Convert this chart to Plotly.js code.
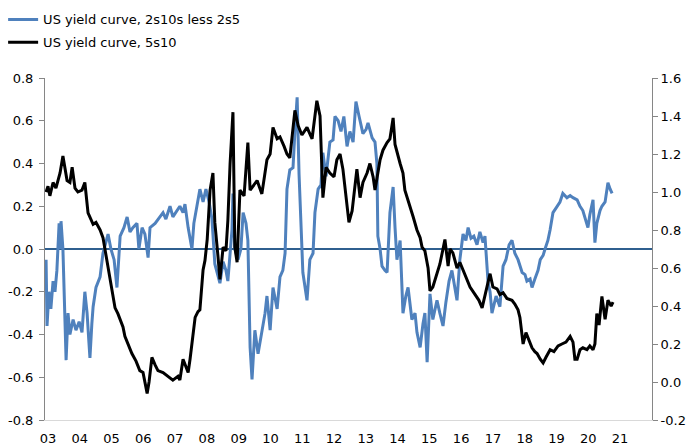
<!DOCTYPE html>
<html>
<head>
<meta charset="utf-8">
<script src="https://cdn.plot.ly/plotly-3.0.1.min.js"></script>
<style>html,body{margin:0;padding:0;background:#fff;}#chart{width:686px;height:446px;}</style>
</head>
<body>
<div id="chart"></div>
<script>
// Series 1: US yield curve, 2s10s less 2s5 (left axis)
const blueYears = [2002.94,2002.97,2003.03,2003.09,2003.16,2003.22,2003.28,2003.35,2003.38,2003.41,2003.47,2003.53,2003.57,2003.63,2003.69,2003.79,2003.88,2003.98,2004.07,2004.16,2004.23,2004.29,2004.32,2004.38,2004.42,2004.51,2004.64,2004.73,2004.83,2004.89,2004.98,2005.08,2005.17,2005.23,2005.27,2005.39,2005.49,2005.58,2005.67,2005.80,2005.86,2005.96,2006.05,2006.15,2006.21,2006.37,2006.52,2006.62,2006.71,2006.84,2006.93,2007.06,2007.15,2007.25,2007.31,2007.41,2007.47,2007.53,2007.59,2007.69,2007.78,2007.88,2007.97,2008.07,2008.16,2008.25,2008.35,2008.41,2008.51,2008.60,2008.66,2008.79,2008.82,2008.88,2008.98,2009.07,2009.14,2009.23,2009.29,2009.36,2009.42,2009.51,2009.61,2009.73,2009.83,2009.89,2009.99,2010.08,2010.21,2010.30,2010.39,2010.46,2010.52,2010.61,2010.71,2010.77,2010.84,2010.90,2010.99,2011.02,2011.15,2011.24,2011.34,2011.40,2011.50,2011.59,2011.65,2011.75,2011.87,2011.97,2012.03,2012.13,2012.22,2012.31,2012.41,2012.50,2012.60,2012.69,2012.79,2012.91,2013.01,2013.07,2013.20,2013.29,2013.35,2013.38,2013.45,2013.51,2013.60,2013.67,2013.76,2013.86,2013.92,2013.98,2014.08,2014.17,2014.26,2014.33,2014.45,2014.55,2014.61,2014.71,2014.80,2014.86,2014.93,2015.02,2015.11,2015.24,2015.33,2015.43,2015.52,2015.62,2015.71,2015.81,2015.87,2015.96,2016.06,2016.15,2016.22,2016.31,2016.40,2016.50,2016.59,2016.69,2016.75,2016.85,2016.91,2016.97,2017.10,2017.22,2017.32,2017.41,2017.51,2017.60,2017.69,2017.79,2017.92,2018.01,2018.07,2018.17,2018.23,2018.32,2018.42,2018.49,2018.58,2018.64,2018.73,2018.80,2018.89,2018.98,2019.11,2019.20,2019.33,2019.43,2019.52,2019.65,2019.74,2019.83,2019.90,2019.99,2020.05,2020.15,2020.21,2020.27,2020.37,2020.43,2020.53,2020.62,2020.69,2020.75];
const blueVals = [-0.05,-0.36,-0.2,-0.28,-0.15,-0.2,-0.1,0.12,0.0,0.13,0.0,-0.28,-0.52,-0.3,-0.4,-0.33,-0.38,-0.34,-0.39,-0.2,-0.3,-0.44,-0.51,-0.35,-0.27,-0.18,-0.13,-0.02,0.04,0.07,0.0,-0.05,-0.18,-0.05,0.06,0.1,0.15,0.08,0.1,0.12,0.0,0.1,0.07,-0.04,0.1,0.12,0.15,0.17,0.14,0.2,0.15,0.18,0.2,0.17,0.21,0.1,0.05,0.0,0.12,0.2,0.28,0.22,0.28,0.22,0.14,-0.07,-0.12,-0.16,-0.06,-0.1,-0.15,0.09,0.26,0.0,-0.05,0.0,0.17,0.12,0.04,-0.46,-0.61,-0.38,-0.49,-0.38,-0.3,-0.22,-0.38,-0.18,-0.28,-0.13,-0.1,-0.02,0.28,0.37,0.38,0.55,0.71,0.35,0.06,-0.11,-0.24,-0.05,-0.02,0.17,0.28,0.3,0.45,0.34,0.5,0.51,0.62,0.6,0.55,0.62,0.48,0.55,0.5,0.69,0.62,0.54,0.56,0.59,0.52,0.5,0.4,0.06,0.0,-0.08,-0.1,-0.11,0.17,0.29,0.1,-0.05,0.04,-0.3,-0.22,-0.18,-0.33,-0.3,-0.39,-0.46,-0.35,-0.3,-0.53,-0.21,-0.33,-0.24,-0.3,-0.36,-0.25,-0.15,-0.1,-0.2,-0.24,-0.05,0.07,0.04,0.1,0.05,0.06,0.02,0.08,0.03,0.06,-0.16,-0.2,-0.3,-0.22,-0.27,-0.08,-0.05,0.02,0.04,-0.02,-0.05,-0.11,-0.12,-0.15,-0.14,-0.18,-0.14,-0.1,-0.05,-0.03,0.0,0.04,0.09,0.17,0.19,0.22,0.26,0.24,0.25,0.24,0.23,0.2,0.18,0.14,0.1,0.16,0.23,0.03,0.12,0.18,0.2,0.22,0.31,0.28,0.26];

// Series 2: US yield curve, 5s10 (right axis)
const blackYears = [2002.94,2003.00,2003.06,2003.16,2003.25,2003.38,2003.47,2003.53,2003.60,2003.69,2003.76,2003.85,2003.94,2004.07,2004.16,2004.26,2004.35,2004.42,2004.51,2004.64,2004.73,2004.79,2004.86,2004.95,2005.01,2005.11,2005.20,2005.27,2005.36,2005.42,2005.52,2005.64,2005.77,2005.89,2005.99,2006.05,2006.12,2006.18,2006.27,2006.37,2006.46,2006.62,2006.78,2006.93,2007.09,2007.15,2007.25,2007.34,2007.41,2007.47,2007.53,2007.63,2007.72,2007.78,2007.88,2007.94,2008.01,2008.10,2008.19,2008.25,2008.35,2008.41,2008.51,2008.60,2008.66,2008.73,2008.82,2008.88,2008.95,2009.04,2009.17,2009.29,2009.36,2009.48,2009.58,2009.73,2009.89,2009.99,2010.08,2010.21,2010.30,2010.43,2010.52,2010.61,2010.77,2010.87,2010.99,2011.15,2011.31,2011.46,2011.56,2011.65,2011.75,2011.87,2012.00,2012.09,2012.19,2012.28,2012.41,2012.47,2012.57,2012.72,2012.82,2012.91,2013.04,2013.13,2013.23,2013.29,2013.45,2013.54,2013.67,2013.76,2013.86,2013.92,2014.08,2014.17,2014.23,2014.33,2014.39,2014.49,2014.61,2014.71,2014.77,2014.86,2014.96,2015.02,2015.11,2015.24,2015.33,2015.43,2015.49,2015.59,2015.65,2015.74,2015.87,2015.96,2016.06,2016.18,2016.28,2016.44,2016.56,2016.66,2016.75,2016.81,2016.91,2017.00,2017.13,2017.22,2017.32,2017.44,2017.60,2017.69,2017.79,2017.85,2017.95,2018.04,2018.14,2018.23,2018.32,2018.39,2018.49,2018.58,2018.67,2018.80,2018.92,2019.05,2019.17,2019.30,2019.43,2019.52,2019.58,2019.65,2019.74,2019.83,2019.96,2020.05,2020.15,2020.21,2020.27,2020.34,2020.43,2020.53,2020.62,2020.72,2020.78];
const blackVals = [1.0,1.03,0.98,1.05,1.02,1.1,1.19,1.12,1.06,1.05,1.13,1.02,1.0,1.01,1.05,0.89,0.86,0.83,0.84,0.8,0.76,0.7,0.64,0.56,0.5,0.39,0.36,0.33,0.29,0.24,0.2,0.15,0.11,0.06,0.05,0.0,-0.06,0.0,0.13,0.09,0.06,0.05,0.03,0.01,0.03,0.01,0.12,0.08,0.05,0.12,0.2,0.34,0.37,0.38,0.59,0.64,0.75,1.01,1.1,0.84,0.66,0.54,0.71,0.69,0.85,1.15,1.42,0.71,0.63,1.01,0.98,1.26,1.01,1.04,1.06,0.99,1.17,1.2,1.34,1.28,1.29,1.24,1.2,1.18,1.43,1.35,1.3,1.34,1.28,1.48,1.4,0.97,1.13,1.1,1.08,1.17,1.2,1.12,0.92,0.84,0.9,1.12,0.97,1.05,1.1,1.15,1.08,1.01,1.17,1.22,1.26,1.28,1.39,1.25,1.15,1.1,1.01,0.96,0.92,0.87,0.8,0.76,0.71,0.69,0.6,0.48,0.5,0.57,0.62,0.7,0.75,0.61,0.7,0.68,0.6,0.63,0.59,0.55,0.5,0.46,0.43,0.39,0.45,0.5,0.57,0.5,0.49,0.46,0.47,0.44,0.43,0.41,0.38,0.34,0.2,0.26,0.22,0.18,0.16,0.15,0.12,0.1,0.13,0.17,0.16,0.19,0.2,0.21,0.24,0.21,0.12,0.12,0.17,0.18,0.17,0.19,0.17,0.2,0.36,0.3,0.45,0.33,0.43,0.4,0.42];

// Tick labels
const yearTicks = [2003,2004,2005,2006,2007,2008,2009,2010,2011,2012,2013,2014,2015,2016,2017,2018,2019,2020,2021];
const yearLabels = ["03","04","05","06","07","08","09","10","11","12","13","14","15","16","17","18","19","20","21"];
const leftTicks = [-0.8,-0.6,-0.4,-0.2,0,0.2,0.4,0.6,0.8];
const leftLabels = ["-0.8","-0.6","-0.4","-0.2","0.0","0.2","0.4","0.6","0.8"];
const rightTicks = [-0.2,0,0.2,0.4,0.6,0.8,1.0,1.2,1.4,1.6];
const rightLabels = ["-0.2","0.0","0.2","0.4","0.6","0.8","1.0","1.2","1.4","1.6"];

const FONT = 'DejaVu Sans, Verdana, sans-serif';

const traces = [
  {x: blueYears, y: blueVals, type: 'scatter', mode: 'lines', name: 'US yield curve, 2s10s less 2s5',
   legendgroup: 'a', line: {color: '#4f81bd', width: 3}, yaxis: 'y'},
  {x: blackYears, y: blackVals, type: 'scatter', mode: 'lines', name: 'US yield curve, 5s10',
   legendgroup: 'b', line: {color: '#000000', width: 3}, yaxis: 'y2'}
];

const layout = {
  width: 686, height: 446,
  margin: {l: 45, r: 34, t: 78, b: 26, pad: 0, autoexpand: false},
  paper_bgcolor: '#ffffff', plot_bgcolor: '#ffffff',
  font: {family: FONT, size: 13, color: '#000'},
  showlegend: true,
  legend: {x: -0.069, y: 1.215, xanchor: 'left', yanchor: 'top', orientation: 'v',
           tracegroupgap: 3, bgcolor: 'rgba(0,0,0,0)', borderwidth: 0,
           font: {family: FONT, size: 13, color: '#000'}},
  xaxis: {range: [2002.906, 2022.006], tickmode: 'array', tickvals: yearTicks, ticktext: yearLabels,
          showgrid: false, zeroline: false, showline: true, linecolor: '#d9d9d9', linewidth: 1,
          ticks: '', ticklabelstandoff: 6, fixedrange: true},
  yaxis: {range: [-0.8, 0.8], tickmode: 'array', tickvals: leftTicks, ticktext: leftLabels,
          showgrid: false, zeroline: true, zerolinecolor: '#2f5f8f', zerolinewidth: 1.5,
          showline: true, linecolor: '#868686', linewidth: 1, ticks: 'outside', ticklen: 5,
          tickcolor: '#868686', ticklabelstandoff: 3, fixedrange: true},
  yaxis2: {range: [-0.2, 1.6], overlaying: 'y', side: 'right', tickmode: 'array',
           tickvals: rightTicks, ticktext: rightLabels, showgrid: false, zeroline: false,
           showline: true, linecolor: '#868686', linewidth: 1, ticks: 'outside', ticklen: 5,
           tickcolor: '#868686', fixedrange: true}
};

Plotly.newPlot('chart', traces, layout, {displayModeBar: false, staticPlot: true});
</script>
</body>
</html>
